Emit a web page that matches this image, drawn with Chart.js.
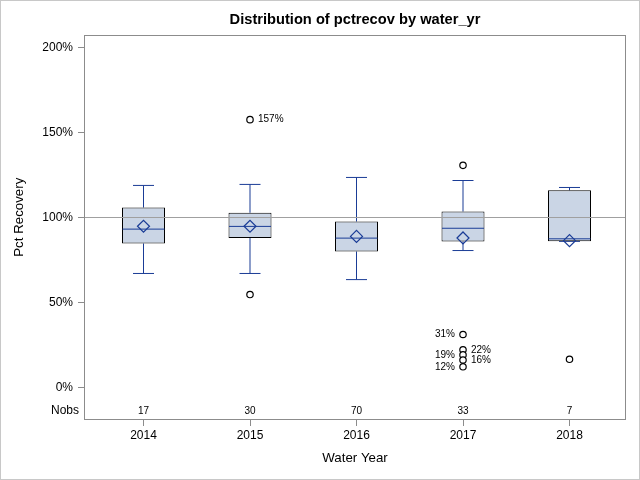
<!DOCTYPE html>
<html lang="en">
<head>
    <meta charset="UTF-8">
    <title>Distribution of pctrecov by water_yr</title>
    <style>
        html, body { margin: 0; padding: 0; background: #fff; }
        #wrap { width: 640px; height: 480px; }
    </style>
</head>
<body>
    <div id="wrap"><canvas id="boxChart" width="640" height="480"></canvas></div>

    <script src="https://cdn.jsdelivr.net/npm/chart.js"></script>
    <script>
    // box statistics per water year, in percent
    var years   = ['2014', '2015', '2016', '2017', '2018'];
    var nobs    = [17, 30, 70, 33, 7];
    var whiskLo = [66.9, 66.9, 63.3, 80.4, 85.8];
    var q1      = [84.5, 87.7, 79.8, 85.7, 85.8];
    var median  = [93.0, 94.6, 87.7, 93.5, 87.3];
    var mean    = [94.7, 94.7, 88.7, 87.8, 86.2];
    var q3      = [105.7, 102.6, 97.5, 103.4, 115.8];
    var whiskHi = [118.7, 119.3, 123.4, 121.6, 117.5];

    // outliers: which year, value, label text and the side the label sits on
    var outIdx   = [1, 1, 3, 3, 3, 3, 3, 3, 4];
    var outVal   = [157.4, 54.5, 130.5, 31, 22, 19, 16, 12, 16.4];
    var outLabel = ['157%', '', '', '31%', '22%', '19%', '16%', '12%', ''];
    var outSide  = ['right', '', '', 'left', 'right', 'left', 'right', 'left', ''];

    var yTicks = [0, 50, 100, 150, 200];
    var refLine = 100;

    var FONT = "'Liberation Sans', Arial, sans-serif";
    var BLUE = '#1a3c96';
    var FRAME = '#8c8c8c';

    // build the point lists for the datasets
    var boxData = years.map(function (y, i) { return { x: i, y: [q1[i], q3[i]] }; });
    var upperStem = years.map(function (y, i) { return { x: i, y: [q3[i], whiskHi[i]] }; });
    var lowerStem = years.map(function (y, i) { return { x: i, y: [whiskLo[i], q1[i]] }; });
    var capData = [];
    years.forEach(function (y, i) {
        capData.push({ x: i, y: whiskLo[i] }, { x: i, y: whiskHi[i] });
    });
    var medianData = years.map(function (y, i) { return { x: i, y: median[i] }; });
    var meanData = years.map(function (y, i) { return { x: i, y: mean[i] }; });
    var outData = outIdx.map(function (c, k) { return { x: c, y: outVal[k] }; });

    // extra drawing: frame, reference line, titles, Nobs row, outlier labels
    var decorations = {
        id: 'decorations',
        afterDatasetDraw: function (chart, args) {
            if (args.meta.label !== 'box') return;
            var ctx = chart.ctx, area = chart.chartArea;
            var py = Math.round(chart.scales.y.getPixelForValue(refLine)) + 0.5;
            ctx.save();
            ctx.strokeStyle = '#a0a0a0';
            ctx.lineWidth = 1;
            ctx.beginPath();
            ctx.moveTo(area.left, py);
            ctx.lineTo(area.right, py);
            ctx.stroke();
            ctx.restore();
        },
        afterDraw: function (chart) {
            var ctx = chart.ctx, area = chart.chartArea;
            var xs = chart.scales.x, ys = chart.scales.y;
            ctx.save();

            // outer border of the image
            ctx.strokeStyle = '#c8c8c8';
            ctx.lineWidth = 1;
            ctx.strokeRect(0.5, 0.5, chart.width - 1, chart.height - 1);

            // plot frame
            ctx.strokeStyle = FRAME;
            ctx.strokeRect(Math.round(area.left) + 0.5, Math.round(area.top) + 0.5,
                           Math.round(area.right - area.left) - 1, Math.round(area.bottom - area.top) - 1);

            ctx.fillStyle = '#000';

            // title
            ctx.font = 'bold 14.67px ' + FONT;
            ctx.textAlign = 'center';
            ctx.textBaseline = 'middle';
            ctx.fillText('Distribution of pctrecov by water_yr', (area.left + area.right) / 2, 20);

            // y axis title
            var midY = (ys.getPixelForValue(yTicks[0]) + ys.getPixelForValue(yTicks[yTicks.length - 1])) / 2;
            ctx.save();
            ctx.translate(19, midY);
            ctx.rotate(-Math.PI / 2);
            ctx.font = '13.3px ' + FONT;
            ctx.fillText('Pct Recovery', 0, 0);
            ctx.restore();

            // Nobs row
            var rowY = area.bottom - 9;
            ctx.font = '10px ' + FONT;
            years.forEach(function (y, i) {
                ctx.fillText(String(nobs[i]), xs.getPixelForValue(i), rowY);
            });
            ctx.font = '12px ' + FONT;
            ctx.textAlign = 'right';
            ctx.fillText('Nobs', area.left - 5, rowY);

            // outlier labels
            ctx.font = '10px ' + FONT;
            outLabel.forEach(function (txt, k) {
                if (!txt) return;
                var px = xs.getPixelForValue(outIdx[k]);
                var py = ys.getPixelForValue(outVal[k]);
                if (outSide[k] === 'left') {
                    ctx.textAlign = 'right';
                    ctx.fillText(txt, px - 8, py);
                } else {
                    ctx.textAlign = 'left';
                    ctx.fillText(txt, px + 8, py);
                }
            });
            ctx.restore();
        }
    };

    var ctx = document.getElementById('boxChart').getContext('2d');
    var boxChart = new Chart(ctx, {
        type: 'bar',
        data: {
            datasets: [{
                label: 'box',
                type: 'bar',
                data: boxData,
                backgroundColor: '#cad5e5',
                borderColor: '#000',
                borderWidth: 1,
                borderSkipped: false,
                barThickness: 43,
                inflateAmount: 0,
                grouped: false,
                order: 3
            }, {
                label: 'upper stem',
                type: 'bar',
                data: upperStem,
                backgroundColor: BLUE,
                borderWidth: 0,
                barThickness: 1,
                inflateAmount: 0,
                grouped: false,
                order: 5
            }, {
                label: 'lower stem',
                type: 'bar',
                data: lowerStem,
                backgroundColor: BLUE,
                borderWidth: 0,
                barThickness: 1,
                inflateAmount: 0,
                grouped: false,
                order: 5
            }, {
                label: 'caps',
                type: 'line',
                data: capData,
                showLine: false,
                pointStyle: 'line',
                pointRadius: 10.5,
                pointBorderColor: BLUE,
                pointBorderWidth: 1,
                order: 4
            }, {
                label: 'median',
                type: 'line',
                data: medianData,
                showLine: false,
                pointStyle: 'line',
                pointRadius: 21,
                pointBorderColor: BLUE,
                pointBorderWidth: 1,
                order: 2
            }, {
                label: 'mean',
                type: 'line',
                data: meanData,
                showLine: false,
                pointStyle: 'rectRot',
                pointRadius: 6,
                pointBackgroundColor: 'rgba(0,0,0,0)',
                pointBorderColor: BLUE,
                pointBorderWidth: 1.2,
                order: 1
            }, {
                label: 'outliers',
                type: 'line',
                data: outData,
                showLine: false,
                pointStyle: 'circle',
                pointRadius: 3.2,
                pointBackgroundColor: '#fff',
                pointBorderColor: '#000',
                pointBorderWidth: 1.2,
                order: 1
            }]
        },
        options: {
            responsive: false,
            animation: false,
            events: [],
            layout: {
                autoPadding: false,
                padding: { top: 35, right: 14, bottom: 0, left: 0 }
            },
            plugins: {
                legend: { display: false },
                tooltip: { enabled: false },
                title: { display: false }
            },
            scales: {
                x: {
                    type: 'linear',
                    min: -0.5587,
                    max: 4.5305,
                    offset: false,
                    afterBuildTicks: function (scale) {
                        scale.ticks = years.map(function (y, i) { return { value: i }; });
                    },
                    afterFit: function (scale) { scale.height = 60; },
                    ticks: {
                        callback: function (v) { return years[v]; },
                        font: { family: FONT, size: 12 },
                        color: '#000',
                        padding: 2,
                        maxRotation: 0,
                        autoSkip: false
                    },
                    grid: {
                        display: true,
                        drawOnChartArea: false,
                        drawTicks: true,
                        tickLength: 6,
                        color: FRAME,
                        offset: false
                    },
                    border: { display: false },
                    title: {
                        display: true,
                        text: 'Water Year',
                        font: { family: FONT, size: 13.3 },
                        color: '#000',
                        padding: { top: 0, bottom: 14 }
                    }
                },
                y: {
                    type: 'linear',
                    min: -19.3,
                    max: 207.2,
                    afterBuildTicks: function (scale) {
                        scale.ticks = yTicks.map(function (v) { return { value: v }; });
                    },
                    afterFit: function (scale) { scale.width = 84; },
                    ticks: {
                        callback: function (v) { return v + '%'; },
                        font: { family: FONT, size: 12 },
                        color: '#000',
                        padding: 5
                    },
                    grid: {
                        display: true,
                        drawOnChartArea: false,
                        drawTicks: true,
                        tickLength: 6,
                        color: FRAME
                    },
                    border: { display: false }
                }
            }
        },
        plugins: [decorations]
    });
    </script>
</body>
</html>
